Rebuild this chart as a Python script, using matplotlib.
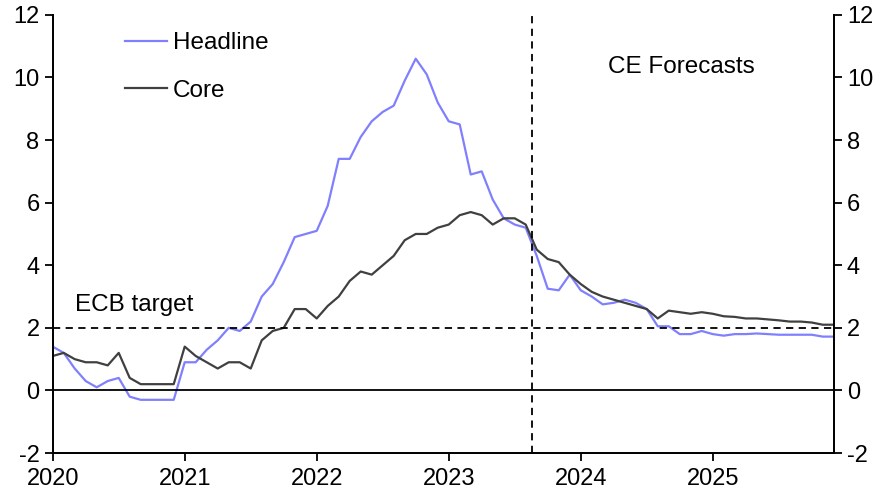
import numpy as np
import matplotlib
matplotlib.use("Agg")
import matplotlib.pyplot as plt

plt.rcParams['font.family'] = ['Liberation Sans', 'DejaVu Sans']
plt.rcParams['axes.unicode_minus'] = False

# monthly, Jan 2020 .. Dec 2025 (CE forecasts from Sep 2023)
headline = [1.4, 1.2, 0.7, 0.3, 0.1, 0.3, 0.4, -0.2, -0.3, -0.3, -0.3, -0.3,
            0.9, 0.9, 1.3, 1.6, 2.0, 1.9, 2.2, 3.0, 3.4, 4.1, 4.9, 5.0,
            5.1, 5.9, 7.4, 7.4, 8.1, 8.6, 8.9, 9.1, 9.9, 10.6, 10.1, 9.2,
            8.6, 8.5, 6.9, 7.0, 6.1, 5.5, 5.3, 5.2, 4.3, 3.25, 3.2, 3.7,
            3.2, 3.0, 2.75, 2.8, 2.9, 2.8, 2.6, 2.05, 2.05, 1.8, 1.8, 1.9,
            1.8, 1.75, 1.8, 1.8, 1.82, 1.8, 1.78, 1.78, 1.78, 1.78, 1.72, 1.72]
core = [1.1, 1.2, 1.0, 0.9, 0.9, 0.8, 1.2, 0.4, 0.2, 0.2, 0.2, 0.2,
        1.4, 1.1, 0.9, 0.7, 0.9, 0.9, 0.7, 1.6, 1.9, 2.0, 2.6, 2.6,
        2.3, 2.7, 3.0, 3.5, 3.8, 3.7, 4.0, 4.3, 4.8, 5.0, 5.0, 5.2,
        5.3, 5.6, 5.7, 5.6, 5.3, 5.5, 5.5, 5.3, 4.5, 4.2, 4.1, 3.7,
        3.4, 3.15, 3.0, 2.9, 2.8, 2.7, 2.6, 2.3, 2.55, 2.5, 2.45, 2.5,
        2.45, 2.37, 2.35, 2.3, 2.3, 2.27, 2.24, 2.2, 2.2, 2.17, 2.1, 2.1]
years = ['2020', '2021', '2022', '2023', '2024', '2025']
ecb_target = 2
forecast_start = 43.6  # month index of the forecast divider

months = np.arange(len(headline))

fig = plt.figure(figsize=(8.86, 4.97), dpi=100)
ax = fig.add_axes([0.0595, 0.0885, 0.8815, 0.8815])

ax.plot(months, headline, color='#8080ff', lw=1.6, label='Headline')
ax.plot(months, core, color='#404040', lw=1.6, label='Core')
ax.axhline(0, color='black', lw=1.3)
ax.axhline(ecb_target, color='black', lw=1.3, ls=(0, (4, 3)))
ax.axvline(forecast_start, color='black', lw=1.3, ls=(0, (4, 3)))

ax.set_xlim(0, len(headline) - 1)
ax.set_ylim(-2, 12)
ax.set_yticks(range(-2, 13, 2))
ax.set_xticks(np.arange(len(years)) * 12)
ax.set_xticklabels(years)

ax2 = ax.twinx()
ax2.set_ylim(-2, 12)
ax2.set_yticks(range(-2, 13, 2))

for a in (ax, ax2):
    a.spines['top'].set_visible(False)
    for s in a.spines.values():
        s.set_linewidth(1.3)
    a.tick_params(labelsize=17, width=1.3, length=6, direction='out')
ax.tick_params(axis='x', pad=5)

ax.text(0.028, 0.338, 'ECB target', fontsize=17.5, va='center', transform=ax.transAxes)
ax.text(0.711, 0.881, 'CE Forecasts', fontsize=17.5, va='center', transform=ax.transAxes)

ax.legend(loc='upper left', bbox_to_anchor=(0.065, 1.01), frameon=False,
          fontsize=17.5, handlelength=1.7, handletextpad=0.25, labelspacing=1.05)

fig.savefig('out.png', dpi=100)
